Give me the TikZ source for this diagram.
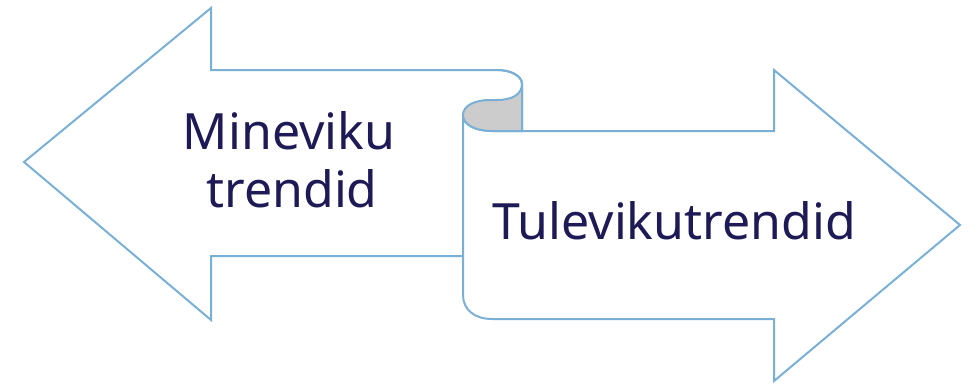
\documentclass[tikz,border=0pt]{standalone}
\usepackage{fontspec}
\setmainfont{Noto Sans}
\definecolor{edge}{HTML}{7BB0D6}
\definecolor{ink}{HTML}{1E1A55}
\definecolor{curl}{HTML}{CCCCCC}
\tikzset{
  shape line/.style={draw=edge, line width=2pt, line join=miter, fill=white},
  label text/.style={text=ink, font=\fontsize{50}{57}\selectfont, inner sep=0pt, align=center},
}
\begin{document}
\begin{tikzpicture}[x=1pt, y=-1pt]
\useasboundingbox (0,0) rectangle (977,383);
% left arrow (past)
\path[shape line] (463,256) -- (211,256) -- (211,320) -- (24,162) -- (211,8) -- (211,70) -- (497,70)
  .. controls (511,70) and (522,76) .. (522,84) -- (522,131) -- (463,131) -- cycle;
% right arrow (future) with scroll curl
\path[shape line] (463,115) -- (463,295) .. controls (463,310) and (475,319) .. (492,319)
  -- (774,319) -- (774,381) -- (960,225) -- (774,70) -- (774,131) -- (522,131) -- (492,131)
  .. controls (476,131) and (463,125) .. (463,115) -- cycle;
% curl shading
\path[draw=edge, line width=2pt, fill=curl] (522,84) .. controls (522,95) and (511,100) .. (497,100)
  -- (490,100) .. controls (474,100) and (463,106) .. (463,115)
  .. controls (463,125) and (476,131) .. (492,131) -- (522,131) -- cycle;
% redraw left shaft top curl edge
\draw[draw=edge, line width=2pt] (497,70) .. controls (511,70) and (522,76) .. (522,84);
% texts
\node[label text, anchor=base] (past) at (289,149) {Mineviku};
\node[label text, anchor=base] (past2) at (292,207) {trendid};
\node[label text, anchor=base] (future) at (674,239) {Tulevikutrendid};
\end{tikzpicture}
\end{document}
